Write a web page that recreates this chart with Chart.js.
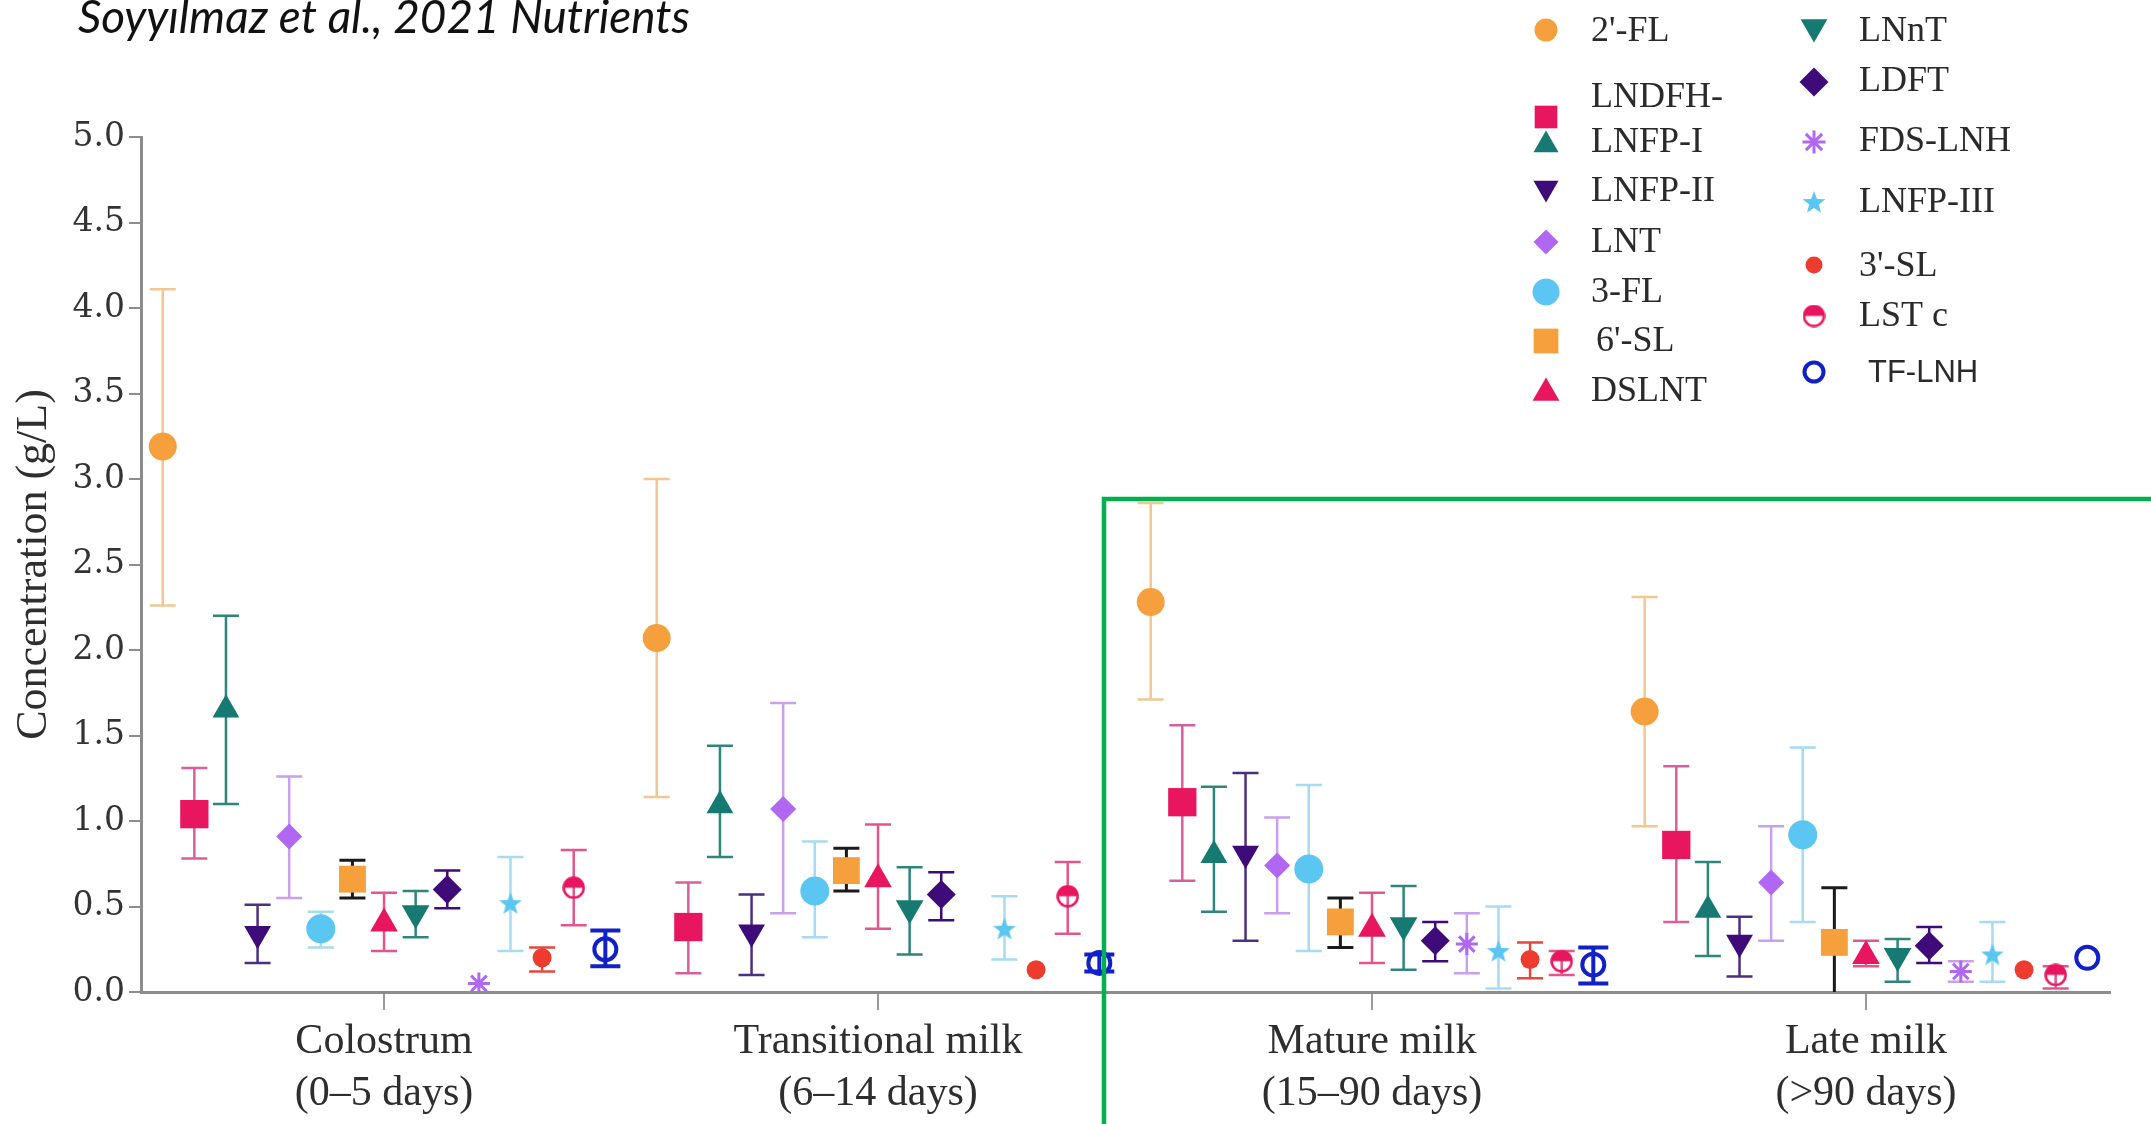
<!DOCTYPE html>
<html>
<head>
<meta charset="utf-8">
<script src="https://cdn.jsdelivr.net/npm/chart.js@4/dist/chart.umd.min.js"></script>
<style>
  html, body { margin: 0; padding: 0; background: #fff; }
  canvas { display: block; }
</style>
</head>
<body>
<canvas id="hmoChart" width="2151" height="1124"></canvas>
<script>
// ---- Data -------------------------------------------------------------
const stageLabels = [
  ['Colostrum', '(0–5 days)'],
  ['Transitional milk', '(6–14 days)'],
  ['Mature milk', '(15–90 days)'],
  ['Late milk', '(>90 days)']
];
const hmoNames = ["2'-FL", 'LNDFH-', 'LNFP-I', 'LNFP-II', 'LNT', '3-FL', "6'-SL", 'DSLNT',
                  'LNnT', 'LDFT', 'FDS-LNH', 'LNFP-III', "3'-SL", 'LST c', 'TF-LNH'];
const concTicks = [0.0, 0.5, 1.0, 1.5, 2.0, 2.5, 3.0, 3.5, 4.0, 4.5, 5.0];

// mean concentration (g/L) and error bar ends, one entry per HMO in hmoNames order
const colostrumMean    = [3.19, 1.04, 1.65, 0.34, 0.91, 0.37, 0.66, 0.40, 0.46, 0.60, 0.05, 0.52, 0.20, 0.61, 0.25];
const colostrumHigh    = [4.11, 1.31, 2.20, 0.51, 1.26, 0.47, 0.77, 0.58, 0.59, 0.71, null, 0.79, 0.26, 0.83, 0.36];
const colostrumLow     = [2.26, 0.78, 1.10, 0.17, 0.55, 0.26, 0.55, 0.24, 0.32, 0.49, null, 0.24, 0.12, 0.39, 0.15];

const transitionalMean = [2.07, 0.38, 1.09, 0.35, 1.07, 0.59, 0.71, 0.66, 0.49, 0.57, null, 0.37, 0.13, 0.56, 0.17];
const transitionalHigh = [3.00, 0.64, 1.44, 0.57, 1.69, 0.88, 0.84, 0.98, 0.73, 0.70, null, 0.56, null, 0.76, 0.22];
const transitionalLow  = [1.14, 0.11, 0.79, 0.10, 0.46, 0.32, 0.59, 0.37, 0.22, 0.42, null, 0.19, null, 0.34, 0.12];

const matureMean       = [2.28, 1.11, 0.80, 0.81, 0.74, 0.72, 0.41, 0.37, 0.39, 0.30, 0.28, 0.24, 0.19, 0.18, 0.16];
const matureHigh       = [2.86, 1.56, 1.20, 1.28, 1.02, 1.21, 0.55, 0.58, 0.62, 0.41, 0.46, 0.50, 0.29, 0.24, 0.26];
const matureLow        = [1.71, 0.65, 0.47, 0.30, 0.46, 0.24, 0.26, 0.17, 0.13, 0.18, 0.11, 0.02, 0.08, 0.10, 0.05];

const lateMean         = [1.64, 0.86, 0.48, 0.29, 0.64, 0.92, 0.29, 0.21, 0.21, 0.27, 0.12, 0.22, 0.13, 0.10, 0.20];
const lateHigh         = [2.31, 1.32, 0.76, 0.44, 0.97, 1.43, 0.61, 0.30, 0.31, 0.38, 0.18, 0.41, null, 0.15, null];
const lateLow          = [0.97, 0.41, 0.21, 0.09, 0.30, 0.41, 0.00, 0.15, 0.06, 0.17, 0.06, 0.06, null, 0.02, null];

const stageMeans = [colostrumMean, transitionalMean, matureMean, lateMean];
const stageHigh  = [colostrumHigh, transitionalHigh, matureHigh, lateHigh];
const stageLow   = [colostrumLow, transitionalLow, matureLow, lateLow];

// ---- Marker artwork ---------------------------------------------------
function starMarker(size, color) {
  const c = document.createElement('canvas');
  c.width = c.height = size;
  const g = c.getContext('2d');
  const cx = size / 2, cy = size / 2 + 1, R = size / 2, r = R * 0.42;
  g.beginPath();
  for (let i = 0; i < 10; i++) {
    const a = -Math.PI / 2 + i * Math.PI / 5;
    const rr = i % 2 ? r : R;
    g.lineTo(cx + rr * Math.cos(a), cy + rr * Math.sin(a));
  }
  g.closePath();
  g.fillStyle = color;
  g.fill();
  return c;
}
function halfFilledMarker(size, color) {
  const c = document.createElement('canvas');
  c.width = c.height = size;
  const g = c.getContext('2d');
  const cx = size / 2, cy = size / 2, r = size / 2 - 1.5;
  g.fillStyle = color;
  g.beginPath(); g.arc(cx, cy, r, Math.PI, 0); g.closePath(); g.fill();
  g.strokeStyle = color; g.lineWidth = 2.5;
  g.beginPath(); g.arc(cx, cy, r, 0, Math.PI * 2); g.stroke();
  return c;
}

const ORANGE = '#F5A03C', PINK = '#E8165F', TEAL = '#177A72', INDIGO = '#3E0B79',
      VIOLET = '#B068F2', SKY = '#5CC6F2', RED = '#EE3B30', BLUE = '#1220C8';

const markerStyles = [
  { pointStyle: 'circle',  radius: 14,   fill: ORANGE, bar: '#F2C792' },
  { pointStyle: 'rect',    radius: 20,   fill: PINK,   bar: '#D8609A' },
  { pointStyle: 'triangle',radius: 15.5, fill: TEAL,   bar: '#2E857C' },
  { pointStyle: 'triangle',radius: 15.5, fill: INDIGO, bar: '#4E2E80', rotation: 180 },
  { pointStyle: 'rectRot', radius: 13,   fill: VIOLET, bar: '#C8A0EC' },
  { pointStyle: 'circle',  radius: 14.5, fill: SKY,    bar: '#A6DBF1' },
  { pointStyle: 'rect',    radius: 19,   fill: ORANGE, bar: '#1A1A1A', barWidth: 3 },
  { pointStyle: 'triangle',radius: 16,   fill: PINK,   bar: '#E2558D' },
  { pointStyle: 'triangle',radius: 16,   fill: TEAL,   bar: '#2E857C', rotation: 180 },
  { pointStyle: 'rectRot', radius: 14.5, fill: INDIGO, bar: '#3E0B79' },
  { pointStyle: 'star',    radius: 11,   fill: VIOLET, bar: '#C8A0EC', border: VIOLET, borderWidth: 3 },
  { pointStyle: starMarker(24, SKY), radius: 12, fill: SKY, bar: '#A6DBF1' },
  { pointStyle: 'circle',  radius: 9.5,  fill: RED,    bar: '#E5473C' },
  { pointStyle: halfFilledMarker(23, PINK), radius: 11, fill: PINK, bar: '#E2558D' },
  { pointStyle: 'circle',  radius: 11,   fill: 'rgba(0,0,0,0)', bar: BLUE, border: BLUE, borderWidth: 4, barWidth: 4, cap: 15 }
];

// horizontal spread of the HMOs inside each lactation stage (axis units)
const SPREAD = 0.064;

const datasets = hmoNames.map((name, s) => {
  const st = markerStyles[s];
  return {
    label: name,
    data: stageMeans
      .map((means, g) => means[s] == null ? null : {
        x: g + (s - 7) * SPREAD, y: means[s], hi: stageHigh[g][s], lo: stageLow[g][s]
      })
      .filter(Boolean),
    pointStyle: st.pointStyle,
    pointRadius: st.radius,
    pointRotation: st.rotation || 0,
    backgroundColor: st.fill,
    borderColor: st.border || st.fill,
    borderWidth: st.borderWidth || 0,
    errorColor: st.bar,
    errorWidth: st.barWidth || 2.5,
    errorCap: st.cap || 13
  };
});

// ---- Plugins ----------------------------------------------------------
const errorBars = {
  id: 'errorBars',
  beforeDatasetsDraw(chart) {
    const { ctx, chartArea, scales: { x, y } } = chart;
    ctx.save();
    ctx.lineCap = 'butt';
    chart.data.datasets.forEach(ds => {
      ds.data.forEach(pt => {
        if (pt.hi == null && pt.lo == null) return;
        const px = x.getPixelForValue(pt.x);
        const top = y.getPixelForValue(pt.hi != null ? pt.hi : pt.y);
        const bot = y.getPixelForValue(pt.lo != null ? pt.lo : pt.y);
        ctx.strokeStyle = ds.errorColor;
        ctx.lineWidth = ds.errorWidth;
        ctx.beginPath();
        ctx.moveTo(px, top);
        ctx.lineTo(px, Math.min(bot, chartArea.bottom));
        if (pt.hi != null) { ctx.moveTo(px - ds.errorCap, top); ctx.lineTo(px + ds.errorCap, top); }
        if (pt.lo != null && pt.lo > 0) { ctx.moveTo(px - ds.errorCap, bot); ctx.lineTo(px + ds.errorCap, bot); }
        ctx.stroke();
      });
    });
    ctx.restore();
  }
};

// legend slots: column, marker y, text y, marker radius
const legendSlots = [
  [0, 30, 32, 11.5], [0, 117, 98, 16], [0, 145, 143, 14.5], [0, 188, 192, 14.5],
  [0, 242, 243, 12.5], [0, 292, 293, 13.5], [0, 341, 342, 17.5], [0, 393, 392, 15.5],
  [1, 27, 32, 15.5], [1, 82, 82, 14.5], [1, 142, 142, 11.5], [1, 202, 203, 11],
  [1, 265, 267, 8.5], [1, 316, 317, 9.5], [1, 372, 373, 9.5]
];
const legendColumns = [{ mx: 1546, tx: 1591 }, { mx: 1814, tx: 1859 }];

const decorations = {
  id: 'decorations',
  afterDraw(chart) {
    const ctx = chart.ctx;
    ctx.save();

    // citation line
    const cite = 'Soyyılmaz et al., 2021 Nutrients';
    ctx.font = 'italic 40px Lato';
    const w = ctx.measureText(cite).width;
    ctx.font = `italic ${(40 * 612 / w).toFixed(2)}px Lato`;
    ctx.fillStyle = '#111';
    ctx.textBaseline = 'alphabetic';
    ctx.fillText(cite, 78, 33);

    // legend
    hmoNames.forEach((name, s) => {
      const [col, my, ty, r] = legendSlots[s];
      const st = markerStyles[s];
      const c = legendColumns[col];
      ctx.fillStyle = st.fill;
      ctx.strokeStyle = st.border || st.fill;
      ctx.lineWidth = st.borderWidth || 0;
      Chart.helpers.drawPoint(ctx, {
        pointStyle: st.pointStyle, rotation: st.rotation || 0,
        radius: r, borderWidth: st.borderWidth ? Math.min(st.borderWidth, 3.5) : 0
      }, c.mx, my);
      ctx.fillStyle = '#2a2a2a';
      ctx.textBaseline = 'middle';
      ctx.textAlign = 'left';
      const sans = name === 'TF-LNH';
      ctx.font = sans ? '31px "Liberation Sans"' : '36px "Liberation Serif"';
      const tx = c.tx + (name === "6'-SL" ? 5 : 0) + (sans ? 9 : 0);
      ctx.fillText(name, tx, ty);
    });

    // highlight frame around the later stages
    ctx.strokeStyle = '#00B050';
    ctx.lineWidth = 4.5;
    ctx.strokeRect(1104, 499, 1200, 800);
    ctx.restore();
  }
};

// ---- Chart ------------------------------------------------------------
new Chart(document.getElementById('hmoChart'), {
  type: 'scatter',
  data: { datasets },
  options: {
    responsive: false,
    animation: false,
    events: [],
    layout: { padding: { top: 137, right: 41, left: 0, bottom: 0 } },
    plugins: { legend: { display: false }, tooltip: { enabled: false } },
    scales: {
      x: {
        type: 'linear',
        min: -0.492,
        max: 3.494,
        afterBuildTicks: sc => { sc.ticks = stageLabels.map((_, i) => ({ value: i })); },
        afterFit: sc => { sc.height = 132; },
        ticks: {
          autoSkip: false, maxRotation: 0, padding: 6,
          callback: v => stageLabels[v],
          font: { family: '"Liberation Serif"', size: 42, lineHeight: 1.24 },
          color: '#2e2e2e'
        },
        grid: { drawOnChartArea: false, drawTicks: true, tickLength: 18, color: '#9a9a9a', lineWidth: 2 },
        border: { color: '#8c8c8c', width: 3 }
      },
      y: {
        min: 0,
        max: 5,
        afterBuildTicks: sc => { sc.ticks = concTicks.map(v => ({ value: v })); },
        afterFit: sc => { sc.width = 141; },
        ticks: {
          padding: 4,
          callback: v => v.toFixed(1),
          font: { family: '"DejaVu Serif"', size: 33 },
          color: '#333'
        },
        grid: { drawOnChartArea: false, drawTicks: true, tickLength: 12, color: '#8c8c8c', lineWidth: 2 },
        border: { color: '#8c8c8c', width: 3 },
        title: {
          display: true,
          text: 'Concentration (g/L)',
          font: { family: '"Liberation Serif"', size: 44 },
          color: '#2e2e2e',
          padding: { top: 8, bottom: 0 }
        }
      }
    }
  },
  plugins: [errorBars, decorations]
});
</script>
</body>
</html>
